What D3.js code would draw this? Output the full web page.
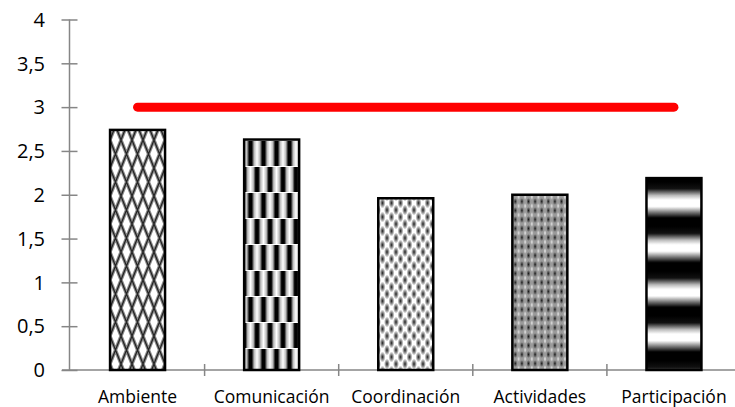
<!DOCTYPE html>
<html lang="es">
<head>
<meta charset="UTF-8">
<title>Chart</title>
<script src="https://cdnjs.cloudflare.com/ajax/libs/d3/7.8.5/d3.min.js"></script>
<style>
    body { margin: 0; background: #fff; }
    svg { display: block; font-family: "Open Sans", "Noto Sans", sans-serif; }
    .axis path, .axis line { stroke: #868686; stroke-width: 1.5; }
    .ylab { font-size: 20px; fill: #000; }
    .xlab { font-size: 17.5px; fill: #000; }
</style>
</head>
<body>
<div id="chart"></div>
<script>
    // Data
    const categories = ["Ambiente", "Comunicación", "Coordinación", "Actividades", "Participación"];
    const values = [2.74, 2.63, 1.96, 2.0, 2.19];
    const refValue = 3;
    const yTicks = [0, 0.5, 1, 1.5, 2, 2.5, 3, 3.5, 4];
    const patternIds = ["p-amb", "p-com", "p-coo", "p-act", "p-par"];

    const width = 735, height = 407;

    const svg = d3.select("#chart").append("svg")
        .attr("width", width)
        .attr("height", height);

    const x = d3.scaleBand()
        .domain(categories)
        .range([70.5, 741])
        .padding(0);

    const y = d3.scaleLinear()
        .domain([0, 4])
        .range([370, 19.5]);

    // Patterns
    const defs = svg.append("defs");

    // Ambiente: diamond lattice
    const p1 = defs.append("pattern").attr("id", "p-amb")
        .attr("patternUnits", "userSpaceOnUse").attr("width", 11).attr("height", 28)
        .attr("x", 110);
    p1.append("rect").attr("width", 11).attr("height", 28).attr("fill", "#fff");
    p1.append("path")
        .attr("d", "M0,0 L5.5,14 L0,28 M11,0 L5.5,14 L11,28")
        .attr("fill", "none").attr("stroke", "#8a8a8a").attr("stroke-width", 3.4);
    p1.append("path")
        .attr("d", "M0,0 L5.5,14 L0,28 M11,0 L5.5,14 L11,28")
        .attr("fill", "none").attr("stroke", "#222").attr("stroke-width", 1.2);

    // Comunicación: offset vertical dark blocks
    const g2 = defs.append("linearGradient").attr("id", "g-com");
    [["0%", "#fff"], ["22%", "#bbb"], ["40%", "#000"], ["60%", "#000"], ["78%", "#bbb"], ["100%", "#fff"]]
        .forEach(([o, c]) => g2.append("stop").attr("offset", o).attr("stop-color", c));
    const p2 = defs.append("pattern").attr("id", "p-com")
        .attr("patternUnits", "userSpaceOnUse").attr("width", 13).attr("height", 52)
        .attr("x", 244).attr("y", 140);
    p2.append("rect").attr("width", 13).attr("height", 52).attr("fill", "#fff");
    p2.append("rect").attr("x", 0).attr("y", 1).attr("width", 13).attr("height", 25).attr("fill", "url(#g-com)");
    p2.append("rect").attr("x", 6.5).attr("y", 27).attr("width", 13).attr("height", 25).attr("fill", "url(#g-com)");
    p2.append("rect").attr("x", -6.5).attr("y", 27).attr("width", 13).attr("height", 25).attr("fill", "url(#g-com)");

    // Coordinación: small soft dots
    const g3 = defs.append("radialGradient").attr("id", "g-coo");
    g3.append("stop").attr("offset", "0%").attr("stop-color", "#222");
    g3.append("stop").attr("offset", "100%").attr("stop-color", "#fff");
    const p3 = defs.append("pattern").attr("id", "p-coo")
        .attr("patternUnits", "userSpaceOnUse").attr("width", 9).attr("height", 14)
        .attr("x", 378);
    p3.append("rect").attr("width", 9).attr("height", 14).attr("fill", "#fff");
    [[0, 0], [9, 0], [0, 14], [9, 14], [4.5, 7]].forEach(([cx, cy]) => {
        p3.append("ellipse").attr("cx", cx).attr("cy", cy).attr("rx", 3).attr("ry", 5.5)
            .attr("fill", "url(#g-coo)");
    });

    // Actividades: fine grey grid
    const g4 = defs.append("radialGradient").attr("id", "g-act");
    g4.append("stop").attr("offset", "0%").attr("stop-color", "#1a1a1a");
    g4.append("stop").attr("offset", "100%").attr("stop-color", "#9a9a9a");
    const g4b = defs.append("radialGradient").attr("id", "g-act2");
    g4b.append("stop").attr("offset", "0%").attr("stop-color", "#eee");
    g4b.append("stop").attr("offset", "100%").attr("stop-color", "#9a9a9a");
    const p4 = defs.append("pattern").attr("id", "p-act")
        .attr("patternUnits", "userSpaceOnUse").attr("width", 6.6).attr("height", 9)
        .attr("x", 512).attr("y", 197);
    p4.append("rect").attr("width", 6.6).attr("height", 9).attr("fill", "#9a9a9a");
    p4.append("ellipse").attr("cx", 3.3).attr("cy", 4.5).attr("rx", 2).attr("ry", 3.6).attr("fill", "url(#g-act)");
    [[0, 0], [6.6, 0], [0, 9], [6.6, 9]].forEach(([cx, cy]) => {
        p4.append("ellipse").attr("cx", cx).attr("cy", cy).attr("rx", 1.6).attr("ry", 3)
            .attr("fill", "url(#g-act2)");
    });

    // Participación: wide horizontal bands
    const g5 = defs.append("linearGradient").attr("id", "g-par")
        .attr("x1", 0).attr("y1", 0).attr("x2", 0).attr("y2", 1);
    [["0%", "#000"], ["15%", "#111"], ["30%", "#bbb"], ["40%", "#fff"], ["55%", "#fff"],
     ["68%", "#777"], ["80%", "#000"], ["100%", "#000"]].forEach(([o, c]) => {
        g5.append("stop").attr("offset", o).attr("stop-color", c);
    });
    const p5 = defs.append("pattern").attr("id", "p-par")
        .attr("patternUnits", "userSpaceOnUse").attr("width", 60).attr("height", 44.7)
        .attr("x", 0).attr("y", 182);
    p5.append("rect").attr("width", 60).attr("height", 44.7).attr("fill", "url(#g-par)");

    // Axes
    const yAxis = svg.append("g").attr("class", "axis")
        .attr("transform", `translate(${x.range()[0] - 1},0)`)
        .call(d3.axisLeft(y).tickValues(yTicks).tickSize(8).tickFormat(() => ""));
    yAxis.select(".domain").attr("d", `M0,${y(4)}V${y(0)}`);
    yAxis.selectAll(".tick line").attr("x1", 8).attr("x2", -8);

    svg.append("g")
        .selectAll("text")
        .data(yTicks)
        .join("text")
        .attr("class", "ylab")
        .attr("x", 45)
        .attr("y", d => y(d))
        .attr("dy", "0.36em")
        .attr("text-anchor", "end")
        .text(d => String(d).replace(".", ","));

    const xAxis = svg.append("g").attr("class", "axis")
        .attr("transform", `translate(0,${y(0)})`);
    xAxis.append("line")
        .attr("x1", 62).attr("x2", width)
        .attr("y1", 0).attr("y2", 0);
    xAxis.selectAll(".xtick")
        .data(categories.slice(1))
        .join("line")
        .attr("class", "xtick")
        .attr("x1", d => x(d)).attr("x2", d => x(d))
        .attr("y1", -6).attr("y2", 6);

    svg.append("g")
        .selectAll("text")
        .data(categories)
        .join("text")
        .attr("class", "xlab")
        .attr("x", d => x(d) + x.bandwidth() / 2)
        .attr("y", 403)
        .attr("text-anchor", "middle")
        .text(d => d);

    // Bars
    const barW = x.bandwidth() * 0.41;
    svg.append("g")
        .selectAll("rect")
        .data(categories)
        .join("rect")
        .attr("x", d => x(d) + x.bandwidth() / 2 - barW / 2)
        .attr("y", (d, i) => y(values[i]))
        .attr("width", barW)
        .attr("height", (d, i) => y(0) - y(values[i]))
        .attr("fill", (d, i) => `url(#${patternIds[i]})`)
        .attr("stroke", "#000")
        .attr("stroke-width", 2.5);

    // Reference line
    svg.append("line")
        .attr("x1", x(categories[0]) + x.bandwidth() / 2)
        .attr("x2", x(categories[categories.length - 1]) + x.bandwidth() / 2)
        .attr("y1", y(refValue))
        .attr("y2", y(refValue))
        .attr("stroke", "#ff0000")
        .attr("stroke-width", 9)
        .attr("stroke-linecap", "round");
</script>
</body>
</html>
